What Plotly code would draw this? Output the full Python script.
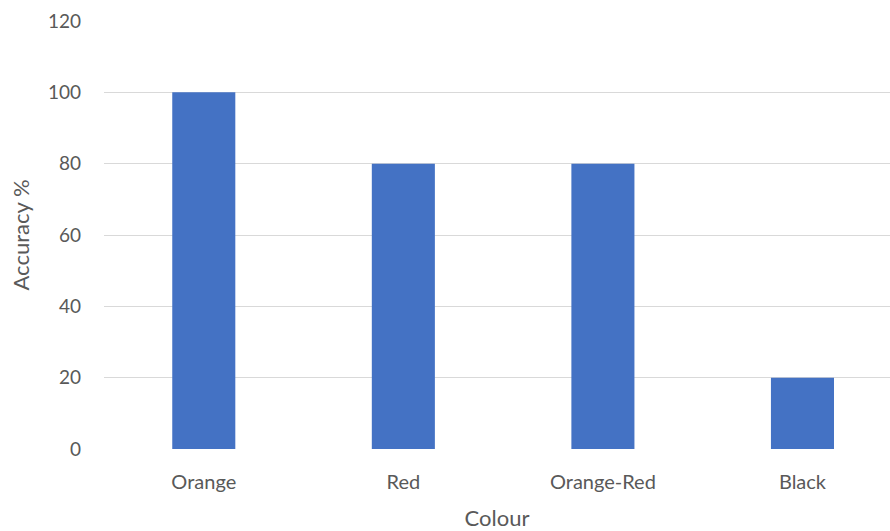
import plotly.graph_objects as go

colours = ["Orange", "Red", "Orange-Red", "Black"]
accuracy = [100, 80, 80, 20]
y_ticks = [0, 20, 40, 60, 80, 100, 120]

positions = list(range(len(colours)))

fig = go.Figure(
    go.Bar(
        x=positions,
        y=accuracy,
        width=0.316,
        marker=dict(color="#4472C4", line=dict(width=0)),
    )
)

fig.update_layout(
    width=890,
    height=531,
    margin=dict(l=104, r=0, t=21, b=82),
    paper_bgcolor="white",
    plot_bgcolor="white",
    font=dict(family="Lato", color="#595959"),
    showlegend=False,
    xaxis=dict(
        range=[-0.5, 3.4386],
        tickmode="array",
        tickvals=positions,
        ticktext=colours,
        tickfont=dict(size=20, color="#595959"),
        showgrid=False,
        zeroline=False,
        showline=False,
        ticks="",
        ticklabelstandoff=19,
        title=dict(text="Colour", font=dict(size=22, color="#595959"), standoff=18),
    ),
    yaxis=dict(
        range=[0, 120],
        tickmode="array",
        tickvals=y_ticks,
        tickfont=dict(size=19, color="#595959"),
        showgrid=True,
        gridcolor="#D9D9D9",
        gridwidth=1.3,
        zeroline=False,
        showline=False,
        ticks="",
        ticklabelstandoff=22,
        title=dict(text="Accuracy %", font=dict(size=22, color="#595959"), standoff=12),
    ),
)

fig.write_html("out.html")
